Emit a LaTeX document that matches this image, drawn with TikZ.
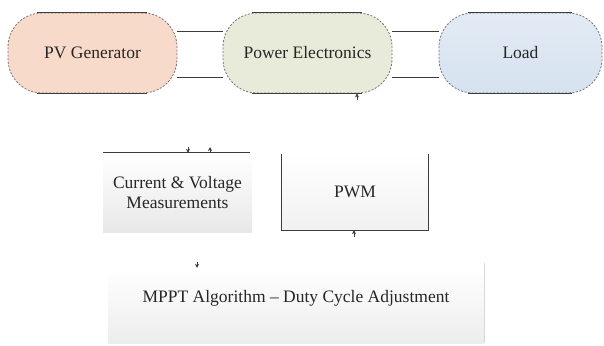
\documentclass[tikz,border=0pt]{standalone}
\usepackage{fontspec}
\setmainfont{Liberation Serif}
\usetikzlibrary{arrows.meta,backgrounds}
\definecolor{pvfill}{RGB}{248,218,202}
\definecolor{pefill}{RGB}{233,235,218}
\definecolor{loadfill}{RGB}{214,226,240}
\definecolor{edgec}{RGB}{60,60,60}
\definecolor{dashc}{RGB}{115,115,115}
\definecolor{boxbot}{RGB}{232,232,232}
\definecolor{faint}{RGB}{215,215,215}
\begin{document}
\begin{tikzpicture}[x=1pt,y=-1pt,
  font=\fontsize{17.5}{20}\selectfont,
  blob/.style={draw=dashc, dash pattern=on 2pt off 1.6pt, line width=0.8pt,
    rounded corners=34pt, inner sep=0pt, minimum height=80pt, text=black!85},
  graybox/.style={draw=none, inner sep=0pt, top color=white, bottom color=boxbot,
    align=center, text=black!85},
  edgeln/.style={draw=edgec, line width=1.1pt},
  conn/.style={draw=edgec, line width=1pt},
  tipmark/.style={draw=edgec, line width=0.5pt, -{Stealth[length=4pt,width=4pt]}}
]
\useasboundingbox (0,0) rectangle (604,345);

% top row
\node[blob, fill=pvfill, minimum width=169pt] (pv) at (92.5,53) {PV Generator};
\node[blob, fill=pefill, minimum width=169pt] (pe) at (307.5,53) {Power Electronics};
\node[blob, top color=loadfill!70!white, bottom color=loadfill, minimum width=163pt] (load) at (520.5,53) {Load};

\foreach \n in {pv,pe,load}{
  \draw[edgeln] ([xshift=29pt]\n.north west) -- ([xshift=-30pt]\n.north east);
  \draw[edgeln] ([xshift=29pt]\n.south west) -- ([xshift=-30pt]\n.south east);
}

\begin{scope}[on background layer]
  \draw[conn] ([yshift=21.5pt]pv.east) -- ([yshift=21.5pt]pe.west);
  \draw[conn] ([yshift=-24.5pt]pv.east) -- ([yshift=-24.5pt]pe.west);
  \draw[conn] ([yshift=21.5pt]pe.east) -- ([yshift=21.5pt]load.west);
  \draw[conn] ([yshift=-24.5pt]pe.east) -- ([yshift=-24.5pt]load.west);
\end{scope}

% middle row
\node[graybox, minimum width=149pt, minimum height=79pt] (cvm) at (177.5,192.5)
  {Current \& Voltage\\Measurements};
\draw[edgeln] (cvm.north west) -- ([xshift=-2pt]cvm.north east);

\node[graybox, top color=white, bottom color=boxbot!60!white, minimum width=146pt, minimum height=76pt] (pwm) at (355,192) {PWM};
\draw[edgeln] (pwm.north west) -- (pwm.south west) -- (pwm.south east) -- (pwm.north east);

% bottom box
\node[graybox, top color=white, bottom color=boxbot!80!white, minimum width=376pt, minimum height=75pt] (mppt) at (296,305.5) {};
\node[text=black!85] (mpptlabel) at (296,298) {MPPT Algorithm – Duty Cycle Adjustment};
\draw[faint, line width=0.8pt] ([yshift=5pt]mppt.north east) -- (mppt.south east);

% small arrow tips (remnants of connectors)
\coordinate (m1) at (188,147);
\coordinate (m2) at (210,147);
\coordinate (m3) at (357,100);
\coordinate (m4) at (354,237);
\coordinate (m5) at (197,262);
\draw[tipmark] (m1) -- (m1 |- cvm.north);
\draw[tipmark] (m2 |- cvm.north) -- (m2);
\draw[tipmark] (m3) -- (m3 |- pe.south);
\draw[tipmark] (m4) -- (m4 |- pwm.south);
\draw[tipmark] (m5) -- (m5 |- mppt.north);
\end{tikzpicture}
\end{document}
